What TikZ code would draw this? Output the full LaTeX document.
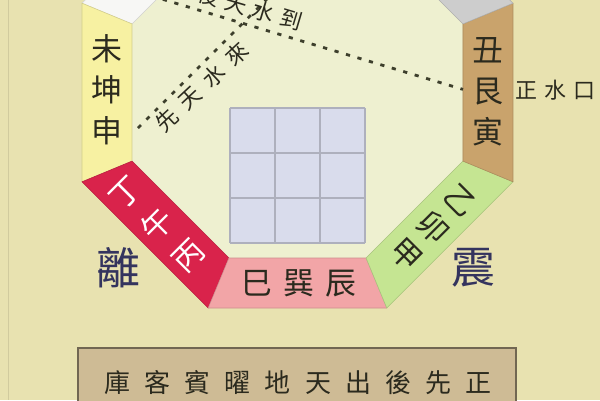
\documentclass[tikz,border=0pt]{standalone}
\usepackage{fontspec}
\usepackage{xcolor}
\usepackage{tikz}
\newfontfamily\cjk{Noto Sans CJK TC}
\definecolor{bgc}{HTML}{E8E2B0}
\definecolor{innerc}{HTML}{EEF0D0}
\definecolor{kunc}{HTML}{F7F1A2}
\definecolor{wuc}{HTML}{D9234B}
\definecolor{xunc}{HTML}{F2A5A7}
\definecolor{maoc}{HTML}{C5E592}
\definecolor{genc}{HTML}{C9A36C}
\definecolor{zic}{HTML}{CDCDCD}
\definecolor{youc}{HTML}{F7F7F5}
\definecolor{gridc}{HTML}{D9DCEC}
\definecolor{boxc}{HTML}{CEBB95}
\definecolor{ink}{HTML}{2B2A1E}
\definecolor{navy}{HTML}{34345E}
\definecolor{dotc}{HTML}{3D3F2C}

\begin{document}
\begin{tikzpicture}[x=0.02cm,y=0.02cm,
    band/.style={fill=#1,draw=#1!85!black,line width=0.3pt},
    colword/.style={font=\cjk\fontsize{17.6}{23.3}\selectfont,align=center,text=ink,inner sep=0pt},
    gua/.style={font=\cjk\fontsize{25}{25}\selectfont,text=navy,inner sep=0pt},
    note/.style={font=\cjk\fontsize{12.5}{12.5}\selectfont,text=ink,inner sep=0pt},
    dotline/.style={dotc,line width=1.6pt,dash pattern=on 2.4pt off 4.4pt}]
    \useasboundingbox (0,0) rectangle (600,-400);
    \clip (0,0) rectangle (600,-400);
    \fill[bgc] (0,0) rectangle (600,-400);
    \draw[bgc!90!black,line width=0.4pt] (8,0) -- (8,-400);
    % inner octagon
    \fill[innerc] (132,-23.9) -- (132,-161.1) -- (228.9,-258) -- (366.1,-258)
        -- (463,-161.1) -- (463,-23.9) -- (366.1,73) -- (228.9,73) -- cycle;
    % bands
    \draw[band=youc] (82,-3.2) -- (132,-23.9) -- (228.9,73) -- (208.2,123) -- cycle;
    \draw[band=kunc] (82,-3.2) -- (82,-181.8) -- (132,-161.1) -- (132,-23.9) -- cycle;
    \draw[band=wuc] (82,-181.8) -- (208.2,-308) -- (228.9,-258) -- (132,-161.1) -- cycle;
    \draw[band=xunc] (208.2,-308) -- (386.8,-308) -- (366.1,-258) -- (228.9,-258) -- cycle;
    \draw[band=maoc] (386.8,-308) -- (513,-181.8) -- (463,-161.1) -- (366.1,-258) -- cycle;
    \draw[band=genc] (513,-181.8) -- (513,-3.2) -- (463,-23.9) -- (463,-161.1) -- cycle;
    \draw[band=zic] (513,-3.2) -- (386.8,123) -- (366.1,73) -- (463,-23.9) -- cycle;
    % nine palaces
    \fill[gridc] (230,-108) rectangle (365,-243);
    \foreach \k in {0,1,2,3} {
        \draw[gridc!80!black,line width=0.6pt] (230+45*\k,-108) -- (230+45*\k,-243);
        \draw[gridc!80!black,line width=0.6pt] (230,-108-45*\k) -- (365,-108-45*\k);
    }
    % band words
    \node[colword] (kun) at (107,-90) {未\\坤\\申};
    \node[colword] (gen) at (488,-92) {丑\\艮\\寅};
    \node[colword,text=white,font=\cjk\fontsize{17.6}{25.4}\selectfont,rotate=45] (wu) at (158,-225) {丁\\午\\丙};
    \node[colword,font=\cjk\fontsize{17.6}{22}\selectfont,rotate=-45] (mao) at (433,-228) {乙\\卯\\甲};
    \node[colword] (xun) at (299,-283) {巳\hspace{6.3pt}巽\hspace{6.3pt}辰};
    \node[gua] (li) at (118,-268) {離};
    \node[gua] (zhen) at (473,-268) {震};
    % water lines
    \coordinate (xa) at (138,-128);
    \coordinate (xb) at (282,16);
    \coordinate (ha) at (140,7.5);
    \coordinate (hb) at (463,-89.4);
    \draw[dotline] (xa) -- (xb);
    \draw[dotline] (ha) -- (hb);
    \node[note,rotate=43] (xtsl) at (202,-87) {先\hspace{5.7pt}天\hspace{5.7pt}水\hspace{5.7pt}來};
    \node[note,rotate=-16.5] (htsd) at (250,-8) {後\hspace{3.7pt}天\hspace{3.7pt}水\hspace{3.7pt}到};
    \node[note,anchor=west] (zsk) at (515,-90) {正\hspace{4pt}水\hspace{4pt}口};
    % bottom table
    \draw[fill=boxc,draw=boxc!55!black,line width=1.2pt] (78,-348) rectangle (516,-430);
    \node[font=\cjk\fontsize{14.8}{14.8}\selectfont,text=ink,inner sep=0pt] (tbl) at (298,-383)
        {庫\hspace{8pt}客\hspace{8pt}賓\hspace{8pt}曜\hspace{8pt}地\hspace{8pt}天\hspace{8pt}出\hspace{8pt}後\hspace{8pt}先\hspace{8pt}正};
\end{tikzpicture}
\end{document}
